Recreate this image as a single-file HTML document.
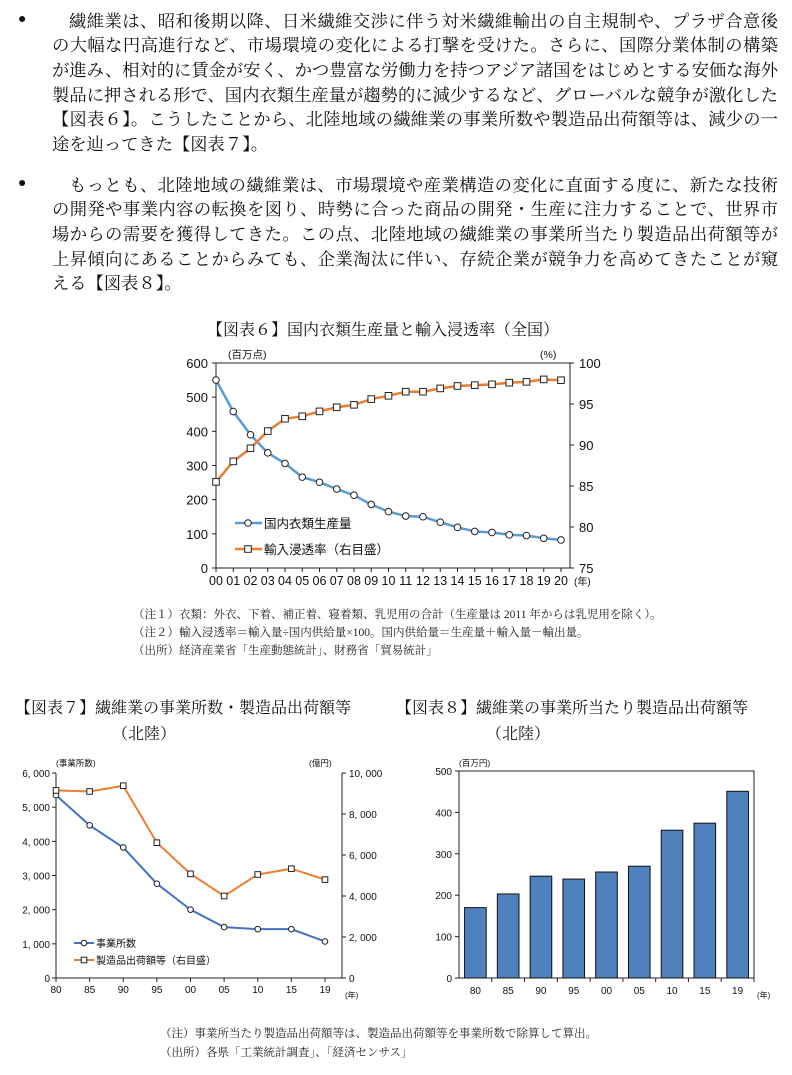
<!DOCTYPE html>
<html><head><meta charset="utf-8">
<style>
body{margin:0;background:#fff;width:792px;height:1075px;position:relative;overflow:hidden;font-family:"Liberation Serif","Noto Serif CJK SC",serif;color:#111}
.ln{position:absolute;left:52px;width:726px;font-size:17.3px;line-height:20px;white-space:nowrap;text-align:justify;text-align-last:justify}
.bul{position:absolute;left:18px;font-size:14px}
.t{position:absolute;font-size:16px;white-space:nowrap}
.n{position:absolute;font-size:11.5px;white-space:nowrap;color:#222}
svg{position:absolute;left:0;top:0}
svg text{font-family:"Liberation Sans","Noto Sans CJK JP",sans-serif;fill:#111}
</style></head><body>
<div class="bul" style="top:12px">●</div>
<div>
<div class="ln" style="top:12px;padding-left:0"><span style="padding-left:17px"></span>繊維業は、昭和後期以降、日米繊維交渉に伴う対米繊維輸出の自主規制や、プラザ合意後</div>
<div class="ln" style="top:36px">の大幅な円高進行など、市場環境の変化による打撃を受けた。さらに、国際分業体制の構築</div>
<div class="ln" style="top:61px">が進み、相対的に賃金が安く、かつ豊富な労働力を持つアジア諸国をはじめとする安価な海外</div>
<div class="ln" style="top:86px">製品に押される形で、国内衣類生産量が趨勢的に減少するなど、グローバルな競争が激化した</div>
<div class="ln" style="top:110px">【図表６】。こうしたことから、北陸地域の繊維業の事業所数や製造品出荷額等は、減少の一</div>
<div class="ln" style="top:135px;text-align-last:left">途を辿ってきた【図表７】。</div>
</div>
<div class="bul" style="top:176px">●</div>
<div>
<div class="ln" style="top:176px"><span style="padding-left:17px"></span>もっとも、北陸地域の繊維業は、市場環境や産業構造の変化に直面する度に、新たな技術</div>
<div class="ln" style="top:200px">の開発や事業内容の転換を図り、時勢に合った商品の開発・生産に注力することで、世界市</div>
<div class="ln" style="top:225px">場からの需要を獲得してきた。この点、北陸地域の繊維業の事業所当たり製造品出荷額等が</div>
<div class="ln" style="top:250px">上昇傾向にあることからみても、企業淘汰に伴い、存続企業が競争力を高めてきたことが窺</div>
<div class="ln" style="top:274px;text-align-last:left">える【図表８】。</div>
</div>
<div class="t" style="left:207px;top:317px">【図表６】国内衣類生産量と輸入浸透率（全国）</div>
<div class="n" style="left:133px;top:606px">（注１）衣類：外衣、下着、補正着、寝着類、乳児用の合計（生産量は 2011 年からは乳児用を除く）。</div>
<div class="n" style="left:133px;top:624px">（注２）輸入浸透率＝輸入量÷国内供給量×100。国内供給量＝生産量＋輸入量－輸出量。</div>
<div class="n" style="left:133px;top:642px">（出所）経済産業省「生産動態統計」、財務省「貿易統計」</div>
<div class="t" style="left:15px;top:695px">【図表７】繊維業の事業所数・製造品出荷額等</div>
<div class="t" style="left:112px;top:721px">（北陸）</div>
<div class="t" style="left:396px;top:695px">【図表８】繊維業の事業所当たり製造品出荷額等</div>
<div class="t" style="left:486px;top:721px">（北陸）</div>
<div class="n" style="left:160px;top:1025px">（注）事業所当たり製造品出荷額等は、製造品出荷額等を事業所数で除算して算出。</div>
<div class="n" style="left:160px;top:1044px">（出所）各県「工業統計調査」、「経済センサス」</div>
<svg id="svg" width="792" height="1075"></svg>
<script>
// Chart 6
const years6=["00","01","02","03","04","05","06","07","08","09","10","11","12","13","14","15","16","17","18","19","20"];
const production6=[550,458,390,337,306,266,251,231,213,186,165,152,150,134,119,107,104,97,95,87,82];
const importRate6=[85.5,88,89.6,91.7,93.2,93.5,94.1,94.6,94.9,95.6,96,96.5,96.5,96.9,97.2,97.3,97.4,97.6,97.7,98,97.9];
const leftTicks6=[0,100,200,300,400,500,600];
const rightTicks6=[75,80,85,90,95,100];
// Chart 7
const years7=["80","85","90","95","00","05","10","15","19"];
const establishments7=[5350,4470,3820,2760,2000,1490,1430,1430,1070];
const shipments7=[9150,9100,9380,6600,5080,4000,5050,5330,4800];
const leftTicks7=[0,1000,2000,3000,4000,5000,6000];
const rightTicks7=[0,2000,4000,6000,8000,10000];
// Chart 8
const years8=["80","85","90","95","00","05","10","15","19"];
const perEst8=[170,203,246,239,256,270,357,374,451];
const ticks8=[0,100,200,300,400,500];

const S=document.getElementById('svg');const NS='http://www.w3.org/2000/svg';
function mk(tag,attrs,parent){const e=document.createElementNS(NS,tag);for(const k in attrs)e.setAttribute(k,attrs[k]);(parent||S).appendChild(e);return e;}
function tx(x,y,s,size,anchor,name,parent){const e=mk('text',{x:x,y:y,'font-size':size,'text-anchor':anchor||'start'},parent);e.textContent=s;

return e;}
const fmt=v=>v>=1000?Math.floor(v/1000)+", "+String(v%1000).padStart(3,'0'):String(v);
const BLUE='#5b9bd5',ORANGE='#ed7d31';

// ---- Chart 6 ----
(function(){
const g=mk('g',{});


const L=216,R=570,T=363,B=568,x0=216,x1=561;
const x=i=>x0+(x1-x0)*i/(years6.length-1);
const yl=v=>B-(B-T)*v/600, yr=v=>B-(B-T)*(v-75)/25;
mk('rect',{x:L,y:T,width:R-L,height:B-T,fill:'none',stroke:'#222','stroke-width':1},g);
leftTicks6.forEach(v=>{mk('line',{x1:L-4,x2:L,y1:yl(v),y2:yl(v),stroke:'#222'},g);tx(L-8,yl(v)+5,v,13,'end','y-left-tick',g);});
rightTicks6.forEach(v=>{mk('line',{x1:R,x2:R+4,y1:yr(v),y2:yr(v),stroke:'#222'},g);tx(R+9,yr(v)+5,v,13,'start','y-right-tick',g);});
years6.forEach((s,i)=>{mk('line',{x1:x(i),x2:x(i),y1:B,y2:B+4,stroke:'#222'},g);tx(x(i),B+17,s,12.5,'middle','x-tick',g);});
tx(574,B+17,'(年)',10,'start','x-unit',g);
tx(228,358,'(百万点)',10.5,'start','y-left-unit',g);
tx(540,358,'(%)',10.5,'start','y-right-unit',g);
const p1=mk('polyline',{points:production6.map((v,i)=>x(i)+','+yl(v)).join(' '),fill:'none',stroke:BLUE,'stroke-width':2.5},g);


const p2=mk('polyline',{points:importRate6.map((v,i)=>x(i)+','+yr(v)).join(' '),fill:'none',stroke:ORANGE,'stroke-width':2.5},g);


production6.forEach((v,i)=>{const c=mk('circle',{cx:x(i),cy:yl(v),r:3.3,fill:'#fff',stroke:'#222','stroke-width':1},g);

});
importRate6.forEach((v,i)=>{const r=mk('rect',{x:x(i)-3.3,y:yr(v)-3.3,width:6.6,height:6.6,fill:'#fff',stroke:'#222','stroke-width':1},g);

});
mk('line',{x1:235,x2:262,y1:523,y2:523,stroke:BLUE,'stroke-width':2.5},g);mk('circle',{cx:248,cy:523,r:3.3,fill:'#fff',stroke:'#222'},g);
tx(264,528,'国内衣類生産量',12.5,'start','legend-production',g);
mk('line',{x1:235,x2:262,y1:549,y2:549,stroke:ORANGE,'stroke-width':2.5},g);mk('rect',{x:244.7,y:545.7,width:6.6,height:6.6,fill:'#fff',stroke:'#222'},g);
tx(264,554,'輸入浸透率（右目盛）',12.5,'start','legend-import-rate',g);
})();

// ---- Chart 7 ----
(function(){
const g=mk('g',{});


const L=56,R=342,T=773,B=978,x0=56,x1=325;
const x=i=>x0+(x1-x0)*i/(years7.length-1);
const yl=v=>B-(B-T)*v/6000, yr=v=>B-(B-T)*v/10000;
mk('line',{x1:L,x2:L,y1:T,y2:B,stroke:'#222'},g);mk('line',{x1:R,x2:R,y1:T,y2:B,stroke:'#222'},g);mk('line',{x1:L,x2:R,y1:B,y2:B,stroke:'#222'},g);
leftTicks7.forEach(v=>{mk('line',{x1:L-4,x2:L,y1:yl(v),y2:yl(v),stroke:'#222'},g);tx(L-6,yl(v)+4,fmt(v),10,'end','y-left-tick',g);});
rightTicks7.forEach(v=>{mk('line',{x1:R,x2:R+4,y1:yr(v),y2:yr(v),stroke:'#222'},g);tx(R+7,yr(v)+4,fmt(v),10,'start','y-right-tick',g);});
years7.forEach((s,i)=>{mk('line',{x1:x(i),x2:x(i),y1:B,y2:B+4,stroke:'#222'},g);tx(x(i),B+15,s,10,'middle','x-tick',g);});
tx(345,B+20,'(年)',8,'start','x-unit',g);
tx(56,766,'(事業所数)',8.5,'start','y-left-unit',g);
tx(309,766,'(億円)',8.5,'start','y-right-unit',g);
const p1=mk('polyline',{points:establishments7.map((v,i)=>x(i)+','+yl(v)).join(' '),fill:'none',stroke:'#4472c4','stroke-width':2},g);


const p2=mk('polyline',{points:shipments7.map((v,i)=>x(i)+','+yr(v)).join(' '),fill:'none',stroke:ORANGE,'stroke-width':2},g);


establishments7.forEach((v,i)=>{const c=mk('circle',{cx:x(i),cy:yl(v),r:2.8,fill:'#fff',stroke:'#222'},g);

});
shipments7.forEach((v,i)=>{const r=mk('rect',{x:x(i)-2.8,y:yr(v)-2.8,width:5.6,height:5.6,fill:'#fff',stroke:'#222'},g);

});
mk('line',{x1:74,x2:94,y1:943,y2:943,stroke:'#4472c4','stroke-width':2},g);mk('circle',{cx:84,cy:943,r:2.8,fill:'#fff',stroke:'#222'},g);
tx(96,947,'事業所数',10,'start','legend-establishments',g);
mk('line',{x1:74,x2:94,y1:960,y2:960,stroke:ORANGE,'stroke-width':2},g);mk('rect',{x:81.2,y:957.2,width:5.6,height:5.6,fill:'#fff',stroke:'#222'},g);
tx(96,964,'製造品出荷額等（右目盛）',10,'start','legend-shipments',g);
})();

// ---- Chart 8 ----
(function(){
const g=mk('g',{});


const L=459,R=754,T=771,B=978;
const n=years8.length,w=(R-L)/n;
const y=v=>B-(B-T)*v/500;
mk('rect',{x:L,y:T,width:R-L,height:B-T,fill:'none',stroke:'#222'},g);
ticks8.forEach(v=>{mk('line',{x1:L-4,x2:L,y1:y(v),y2:y(v),stroke:'#222'},g);tx(L-7,y(v)+4,v,10,'end','y-tick',g);});
perEst8.forEach((v,i)=>{const b=mk('rect',{x:L+w*i+w*0.17,y:y(v),width:w*0.66,height:B-y(v),fill:'#4f81bd',stroke:'#111','stroke-width':1},g);


mk('line',{x1:L+w*(i+1),x2:L+w*(i+1),y1:B,y2:B+4,stroke:'#222'},g);
tx(L+w*(i+0.5),B+16,years8[i],10,'middle','x-tick',g);});
tx(757,B+20,'(年)',8,'start','x-unit',g);
tx(459,766,'(百万円)',8.5,'start','y-unit',g);
})();
</script>
</body></html>
